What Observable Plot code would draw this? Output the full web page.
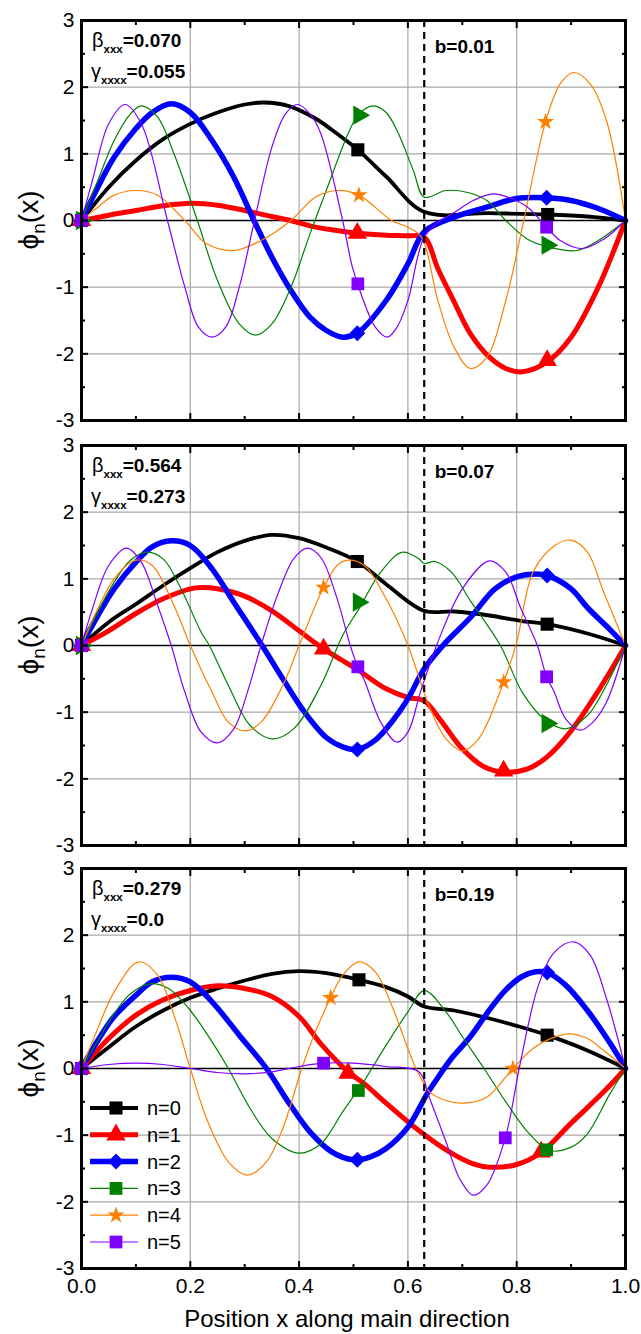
<!DOCTYPE html>
<html><head><meta charset="utf-8">
<script src="https://cdn.jsdelivr.net/npm/d3@7"></script>
<script src="https://cdn.jsdelivr.net/npm/@observablehq/plot@0.6"></script>
<style>
body{margin:0;background:#fff;}
#chart{width:641px;height:1334px;overflow:hidden;}
#chart svg{display:block;}
</style></head><body><div id="chart"></div>
<script>
// ---------- ticks / labels ----------
const xMajor = [0, 0.2, 0.4, 0.6, 0.8, 1.0];
const xMinor = [0.1, 0.3, 0.5, 0.7, 0.9];
const yMajor = [-3, -2, -1, 0, 1, 2, 3];
const yMinor = [-2.5, -1.5, -0.5, 0.5, 1.5, 2.5];
const xGrid = [0.2, 0.4, 0.6, 0.8];
const yGrid = [-2, -1, 1, 2];
const seriesLabels = ["n=0", "n=1", "n=2", "n=3", "n=4", "n=5"];
const betaValues = ["0.070", "0.564", "0.279"];
const gammaValues = ["0.055", "0.273", "0.0"];
const bValues = ["0.01", "0.07", "0.19"];
const dashPositions = [0.63, 0.63, 0.63];
const xTitle = "Position x along main direction";

// ---------- panel 1 (b=0.01) ----------
const p1_n0 = [[0,0],[0.05,0.5],[0.1,0.9],[0.15,1.22],[0.2,1.45],[0.25,1.62],[0.3,1.74],[0.335,1.77],[0.38,1.72],[0.43,1.53],[0.47,1.3],[0.508,1.06],[0.56,0.66],[0.63,0.13],[0.75,0.11],[0.857,0.09],[0.93,0.06],[1,0]];
const p1_n1 = [[0,0],[0.05,0.08],[0.1,0.15],[0.15,0.22],[0.2,0.26],[0.25,0.23],[0.3,0.15],[0.35,0.06],[0.384,0],[0.42,-0.08],[0.46,-0.14],[0.507,-0.19],[0.56,-0.22],[0.6,-0.23],[0.63,-0.25],[0.655,-0.72],[0.685,-1.22],[0.715,-1.7],[0.75,-2.05],[0.78,-2.22],[0.81,-2.27],[0.856,-2.12],[0.9,-1.75],[0.95,-1.0],[1,0]];
const p1_n2 = [[0,0],[0.03,0.5],[0.06,0.95],[0.1,1.38],[0.13,1.62],[0.165,1.75],[0.2,1.62],[0.24,1.2],[0.28,0.65],[0.317,0],[0.35,-0.55],[0.385,-1.05],[0.42,-1.45],[0.45,-1.65],[0.48,-1.75],[0.507,-1.69],[0.56,-1.2],[0.6,-0.65],[0.63,-0.17],[0.685,0.05],[0.745,0.2],[0.8,0.33],[0.855,0.34],[0.9,0.3],[0.95,0.18],[1,0]];
const p1_n3 = [[0,0],[0.03,0.6],[0.06,1.2],[0.09,1.6],[0.11,1.72],[0.14,1.55],[0.17,1.0],[0.213,0],[0.25,-0.9],[0.29,-1.55],[0.32,-1.72],[0.35,-1.55],[0.385,-1.0],[0.42,-0.2],[0.45,0.45],[0.49,1.3],[0.51,1.6],[0.537,1.72],[0.56,1.62],[0.58,1.35],[0.61,0.75],[0.63,0.35],[0.67,0.45],[0.71,0.42],[0.745,0.3],[0.78,0],[0.82,-0.28],[0.86,-0.4],[0.91,-0.45],[0.95,-0.3],[1,0]];
const p1_n4 = [[0,0],[0.03,0.2],[0.06,0.38],[0.1,0.45],[0.14,0.38],[0.19,0],[0.23,-0.35],[0.28,-0.45],[0.33,-0.3],[0.385,0],[0.43,0.35],[0.47,0.45],[0.51,0.38],[0.57,0],[0.6,-0.1],[0.625,-0.25],[0.655,-1.2],[0.685,-1.9],[0.715,-2.22],[0.745,-2.05],[0.78,-1.2],[0.813,0],[0.853,1.48],[0.88,2.05],[0.905,2.22],[0.935,2.05],[0.965,1.5],[1,0]];
const p1_n5 = [[0,0],[0.02,0.6],[0.05,1.45],[0.08,1.74],[0.11,1.45],[0.158,0],[0.19,-1.0],[0.215,-1.6],[0.24,-1.75],[0.265,-1.6],[0.29,-1.0],[0.318,0],[0.35,1.1],[0.375,1.6],[0.397,1.74],[0.42,1.6],[0.44,1.3],[0.48,0],[0.498,-0.7],[0.516,-1.15],[0.54,-1.6],[0.562,-1.75],[0.58,-1.6],[0.6,-1.2],[0.63,-0.25],[0.66,0],[0.685,0.12],[0.72,0.3],[0.757,0.4],[0.79,0.33],[0.82,0.2],[0.855,-0.1],[0.88,-0.3],[0.92,-0.42],[0.96,-0.28],[1,0]];
const p1_m0 = [[0,0],[0.508,1.06],[0.857,0.09]];
const p1_m1 = [[0,0],[0.507,-0.19],[0.856,-2.1]];
const p1_m2 = [[0,0],[0.507,-1.69],[0.855,0.34]];
const p1_m3 = [[0,0],[0.51,1.58],[0.856,-0.37]];
const p1_m4 = [[0,0],[0.51,0.38],[0.853,1.48]];
const p1_m5 = [[0,0],[0.508,-0.95],[0.855,-0.1]];

// ---------- panel 2 (b=0.07) ----------
const p2_n0 = [[0,0],[0.05,0.35],[0.1,0.62],[0.15,0.9],[0.2,1.16],[0.25,1.4],[0.3,1.57],[0.35,1.66],[0.4,1.61],[0.45,1.47],[0.507,1.26],[0.56,0.92],[0.63,0.52],[0.685,0.51],[0.75,0.45],[0.807,0.37],[0.856,0.32],[0.93,0.18],[1,0]];
const p2_n1 = [[0,0],[0.05,0.22],[0.1,0.48],[0.15,0.7],[0.2,0.85],[0.22,0.87],[0.25,0.85],[0.3,0.74],[0.35,0.52],[0.4,0.22],[0.445,-0.05],[0.507,-0.36],[0.56,-0.65],[0.6,-0.78],[0.63,-0.83],[0.66,-1.12],[0.7,-1.55],[0.74,-1.82],[0.776,-1.9],[0.82,-1.85],[0.856,-1.67],[0.9,-1.28],[0.95,-0.68],[1,0]];
const p2_n2 = [[0,0],[0.03,0.45],[0.06,0.85],[0.1,1.25],[0.13,1.48],[0.165,1.57],[0.2,1.5],[0.24,1.15],[0.28,0.65],[0.332,0],[0.37,-0.5],[0.41,-1.0],[0.45,-1.38],[0.48,-1.52],[0.507,-1.56],[0.54,-1.42],[0.57,-1.15],[0.6,-0.8],[0.63,-0.35],[0.67,0.05],[0.715,0.42],[0.76,0.85],[0.8,1.03],[0.83,1.07],[0.856,1.05],[0.9,0.85],[0.93,0.57],[0.97,0.25],[1,0]];
const p2_n3 = [[0,0],[0.03,0.5],[0.06,0.95],[0.09,1.28],[0.12,1.4],[0.15,1.3],[0.18,0.9],[0.22,0.2],[0.235,0],[0.27,-0.6],[0.31,-1.2],[0.35,-1.4],[0.39,-1.25],[0.44,-0.6],[0.48,0.15],[0.51,0.55],[0.55,1.1],[0.59,1.4],[0.62,1.3],[0.63,1.23],[0.65,1.26],[0.68,1.1],[0.715,0.67],[0.77,0],[0.81,-0.7],[0.85,-1.1],[0.89,-1.25],[0.93,-1.05],[0.96,-0.67],[1,0]];
const p2_n4 = [[0,0],[0.03,0.55],[0.06,1.0],[0.1,1.28],[0.13,1.2],[0.17,0.6],[0.2,0],[0.24,-0.7],[0.27,-1.15],[0.3,-1.28],[0.33,-1.15],[0.37,-0.6],[0.4,0],[0.445,0.87],[0.47,1.2],[0.49,1.28],[0.52,1.2],[0.56,0.7],[0.6,0],[0.64,-0.93],[0.67,-1.4],[0.7,-1.58],[0.73,-1.4],[0.776,-0.55],[0.8,0.05],[0.83,1.1],[0.87,1.5],[0.9,1.58],[0.93,1.4],[0.96,0.8],[1,0]];
const p2_n5 = [[0,0],[0.02,0.55],[0.05,1.2],[0.083,1.46],[0.11,1.25],[0.14,0.6],[0.165,0],[0.19,-0.7],[0.22,-1.3],[0.25,-1.46],[0.28,-1.25],[0.305,-0.7],[0.33,0],[0.36,0.75],[0.39,1.3],[0.415,1.46],[0.44,1.32],[0.47,0.7],[0.494,0],[0.508,-0.32],[0.52,-0.52],[0.55,-1.15],[0.58,-1.45],[0.6,-1.3],[0.623,-0.7],[0.655,0.05],[0.7,0.85],[0.75,1.27],[0.78,1.1],[0.807,0.57],[0.838,0],[0.855,-0.47],[0.868,-0.68],[0.89,-1.1],[0.917,-1.27],[0.94,-1.15],[0.965,-0.85],[1,0]];
const p2_m0 = [[0,0],[0.507,1.26],[0.856,0.32]];
const p2_m1 = [[0,0],[0.445,-0.05],[0.776,-1.88]];
const p2_m2 = [[0,0],[0.507,-1.56],[0.856,1.05]];
const p2_m3 = [[0,0],[0.509,0.65],[0.856,-1.17]];
const p2_m4 = [[0,0],[0.445,0.87],[0.776,-0.55]];
const p2_m5 = [[0,0],[0.508,-0.32],[0.855,-0.47]];

// ---------- panel 3 (b=0.19) ----------
const p3_n0 = [[0,0],[0.05,0.32],[0.1,0.63],[0.15,0.87],[0.2,1.06],[0.25,1.2],[0.3,1.32],[0.35,1.42],[0.4,1.46],[0.45,1.43],[0.51,1.33],[0.56,1.22],[0.6,1.08],[0.63,0.93],[0.685,0.87],[0.75,0.75],[0.8,0.64],[0.856,0.5],[0.93,0.27],[1,0]];
const p3_n1 = [[0,0],[0.05,0.45],[0.1,0.8],[0.15,1.03],[0.2,1.17],[0.25,1.24],[0.3,1.2],[0.35,1.08],[0.4,0.78],[0.44,0.37],[0.49,-0.05],[0.52,-0.23],[0.56,-0.52],[0.62,-0.93],[0.68,-1.27],[0.72,-1.43],[0.75,-1.48],[0.8,-1.44],[0.845,-1.26],[0.9,-0.82],[0.96,-0.35],[1,0]];
const p3_n2 = [[0,0],[0.03,0.42],[0.06,0.78],[0.1,1.1],[0.13,1.3],[0.165,1.37],[0.2,1.3],[0.24,1.0],[0.29,0.5],[0.34,0],[0.38,-0.5],[0.42,-0.95],[0.46,-1.25],[0.5,-1.37],[0.53,-1.33],[0.56,-1.2],[0.6,-0.88],[0.636,-0.37],[0.654,-0.15],[0.68,0.15],[0.715,0.48],[0.75,0.88],[0.78,1.18],[0.81,1.38],[0.835,1.45],[0.856,1.44],[0.89,1.25],[0.93,0.87],[0.97,0.4],[1,0]];
const p3_n3 = [[0,0],[0.03,0.42],[0.06,0.82],[0.09,1.12],[0.125,1.27],[0.16,1.2],[0.2,0.87],[0.24,0.4],[0.27,0],[0.31,-0.6],[0.35,-1.05],[0.4,-1.27],[0.44,-1.13],[0.48,-0.65],[0.51,-0.3],[0.52,-0.18],[0.56,0.35],[0.6,0.85],[0.63,1.17],[0.67,0.85],[0.7,0.48],[0.74,0],[0.78,-0.5],[0.82,-0.95],[0.86,-1.23],[0.9,-1.18],[0.93,-0.98],[0.97,-0.4],[1,0]];
const p3_n4 = [[0,0],[0.03,0.6],[0.06,1.15],[0.105,1.6],[0.14,1.4],[0.17,0.8],[0.2,0],[0.23,-0.75],[0.27,-1.4],[0.305,-1.6],[0.34,-1.4],[0.37,-0.9],[0.405,0],[0.43,0.55],[0.458,1.06],[0.48,1.4],[0.51,1.6],[0.54,1.45],[0.57,0.95],[0.6,0.3],[0.615,0],[0.64,-0.35],[0.67,-0.48],[0.7,-0.52],[0.745,-0.43],[0.793,0],[0.83,0.3],[0.86,0.44],[0.895,0.52],[0.93,0.45],[0.96,0.27],[1,0]];
const p3_n5 = [[0,0],[0.05,0.06],[0.1,0.08],[0.15,0.06],[0.2,0.0],[0.25,-0.06],[0.3,-0.08],[0.35,-0.05],[0.4,0.03],[0.445,0.08],[0.5,0.08],[0.56,0.03],[0.62,-0.05],[0.64,-0.45],[0.67,-1.1],[0.695,-1.65],[0.72,-1.9],[0.745,-1.75],[0.779,-1.04],[0.807,0.1],[0.84,1.25],[0.87,1.75],[0.905,1.9],[0.935,1.7],[0.965,1.05],[1,0]];
const p3_m0 = [[0,0],[0.51,1.33],[0.856,0.5]];
const p3_m1 = [[0,0],[0.49,-0.07],[0.845,-1.25]];
const p3_m2 = [[0,0],[0.507,-1.37],[0.856,1.44]];
const p3_m3 = [[0,0],[0.509,-0.33],[0.855,-1.22]];
const p3_m4 = [[0,0],[0.458,1.06],[0.793,0.0]];
const p3_m5 = [[0,0],[0.445,0.08],[0.779,-1.04]];

// ---------- styles ----------
const FONT = "'Liberation Sans', Arial, Helvetica, sans-serif";
const colors = ["#000000", "#ff0000", "#0000ff", "#008000", "#ff8000", "#8000ff"];
const widths = [3.8, 5, 5.5, 1.2, 1.2, 1.2];
const markerR = [7.4, 7.2, 7.2, 7.2, 5.4, 7.2];

const panels = [
  {curves: [p1_n0,p1_n1,p1_n2,p1_n3,p1_n4,p1_n5], markers: [p1_m0,p1_m1,p1_m2,p1_m3,p1_m4,p1_m5],
   symbols: ["square","triangle","diamond2","triangle","star","square"], rotates: [0,0,0,90,0,0],
   height: 430, marginTop: 20, marginBottom: 10},
  {curves: [p2_n0,p2_n1,p2_n2,p2_n3,p2_n4,p2_n5], markers: [p2_m0,p2_m1,p2_m2,p2_m3,p2_m4,p2_m5],
   symbols: ["square","triangle","diamond2","triangle","star","square"], rotates: [0,0,0,90,0,0],
   height: 423, marginTop: 15, marginBottom: 8},
  {curves: [p3_n0,p3_n1,p3_n2,p3_n3,p3_n4,p3_n5], markers: [p3_m0,p3_m1,p3_m2,p3_m3,p3_m4,p3_m5],
   symbols: ["square","triangle","diamond2","square","star","square"], rotates: [0,0,0,0,0,0],
   height: 481, marginTop: 15, marginBottom: 66}
];

const blank = () => "";
const container = document.getElementById("chart");

panels.forEach((p, i) => {
  const marks = [
    Plot.gridX(xGrid, {stroke: "#a8a8a8", strokeOpacity: 1, strokeWidth: 1.2}),
    Plot.gridY(yGrid, {stroke: "#a8a8a8", strokeOpacity: 1, strokeWidth: 1.2}),
    Plot.ruleY([0], {stroke: "#000", strokeWidth: 1.6})
  ];
  p.curves.forEach((c, k) => {
    marks.push(Plot.line(c, {x: d => d[0], y: d => d[1], stroke: colors[k], strokeWidth: widths[k], curve: "catmull-rom"}));
    marks.push(Plot.dot(p.markers[k], {x: d => d[0], y: d => d[1], symbol: p.symbols[k], r: markerR[k], fill: colors[k], stroke: "none", rotate: p.rotates[k]}));
  });
  marks.push(Plot.ruleX([dashPositions[i]], {stroke: "#000", strokeWidth: 2.2, strokeDasharray: "7,5"}));
  for (const anchor of ["bottom", "top"]) {
    marks.push(Plot.axisX(xMajor, {anchor, tickSize: -7, strokeWidth: 2, tickFormat: blank, label: null}));
    marks.push(Plot.axisX(xMinor, {anchor, tickSize: -4, strokeWidth: 2, tickFormat: blank, label: null}));
  }
  for (const anchor of ["left", "right"]) {
    marks.push(Plot.axisY(yMajor, {anchor, tickSize: -7, strokeWidth: 2, tickFormat: blank, label: null}));
    marks.push(Plot.axisY(yMinor, {anchor, tickSize: -4, strokeWidth: 2, tickFormat: blank, label: null}));
  }
  marks.push(Plot.axisY(yMajor, {anchor: "left", tickSize: 0, tickPadding: 7, tickFormat: d => String(d), label: null, fontSize: 21}));
  if (i === 2) {
    marks.push(Plot.axisX(xMajor, {anchor: "bottom", tickSize: 0, tickPadding: 10, tickFormat: d => d.toFixed(1), label: null, fontSize: 21}));
  }
  marks.push(Plot.frame({stroke: "#000", strokeWidth: 3}));

  const fig = Plot.plot({
    width: 641, height: p.height,
    marginTop: p.marginTop, marginBottom: p.marginBottom, marginLeft: 81, marginRight: 16,
    x: {domain: [0, 1]}, y: {domain: [-3, 3]},
    style: {fontFamily: FONT, fontSize: "21px", color: "#000", background: "#fff", overflow: "visible"},
    marks
  });
  container.appendChild(fig);

  const svg = d3.select(fig);
  const sx = fig.scale("x"), sy = fig.scale("y");
  const left = sx.apply(0), right = sx.apply(1);
  const top = sy.apply(3), bottom = sy.apply(-3);

  const tb = svg.append("text").attr("x", left + 11).attr("y", top + 27).attr("text-anchor", "start")
    .attr("font-family", FONT).attr("fill", "#000");
  tb.append("tspan").attr("font-size", 20).text("β");
  tb.append("tspan").attr("font-size", 11.5).attr("font-weight", "bold").attr("dy", 6).text("xxx");
  tb.append("tspan").attr("font-size", 19).attr("font-weight", "bold").attr("dy", -6).text("=" + betaValues[i]);
  const tg = svg.append("text").attr("x", left + 10).attr("y", top + 58).attr("text-anchor", "start")
    .attr("font-family", FONT).attr("fill", "#000");
  tg.append("tspan").attr("font-size", 20).text("γ");
  tg.append("tspan").attr("font-size", 11.5).attr("font-weight", "bold").attr("dy", 6).text("xxxx");
  tg.append("tspan").attr("font-size", 19).attr("font-weight", "bold").attr("dy", -6).text("=" + gammaValues[i]);
  svg.append("text").attr("x", sx.apply(dashPositions[i]) + 11).attr("y", top + 33).attr("text-anchor", "start")
    .attr("font-family", FONT).attr("font-size", 19).attr("font-weight", "bold").attr("fill", "#000")
    .text("b=" + bValues[i]);

  const yl = svg.append("text").attr("transform", `translate(38,${(top + bottom) / 2}) rotate(-90)`)
    .attr("text-anchor", "middle").attr("font-family", FONT).attr("font-size", 28).attr("fill", "#000");
  yl.append("tspan").text("ϕ");
  yl.append("tspan").attr("font-size", 19).attr("dy", 7).text("n");
  yl.append("tspan").attr("dy", -7).text("(x)");

  if (i === 2) {
    svg.append("text").attr("x", (left + right) / 2 - 6).attr("y", bottom + 59)
      .attr("text-anchor", "middle").attr("font-family", FONT).attr("font-size", 24).attr("fill", "#000")
      .text(xTitle);
    const legSym = [d3.symbolSquare, d3.symbolTriangle, d3.symbolDiamond2, d3.symbolSquare, d3.symbolStar, d3.symbolSquare];
    const g = svg.append("g");
    seriesLabels.forEach((lab, k) => {
      const yy = top + 240 + k * 26.8;
      g.append("line").attr("x1", left + 9).attr("x2", left + 57).attr("y1", yy).attr("y2", yy)
        .attr("stroke", colors[k]).attr("stroke-width", widths[k]);
      g.append("path").attr("d", d3.symbol(legSym[k], Math.PI * markerR[k] * markerR[k])())
        .attr("transform", `translate(${left + 35},${yy})`).attr("fill", colors[k]);
      g.append("text").attr("x", left + 66).attr("y", yy).attr("dy", "0.35em").attr("text-anchor", "start")
        .attr("font-family", FONT).attr("font-size", 20).attr("fill", "#000").text(lab);
    });
  }
});
</script></body></html>
